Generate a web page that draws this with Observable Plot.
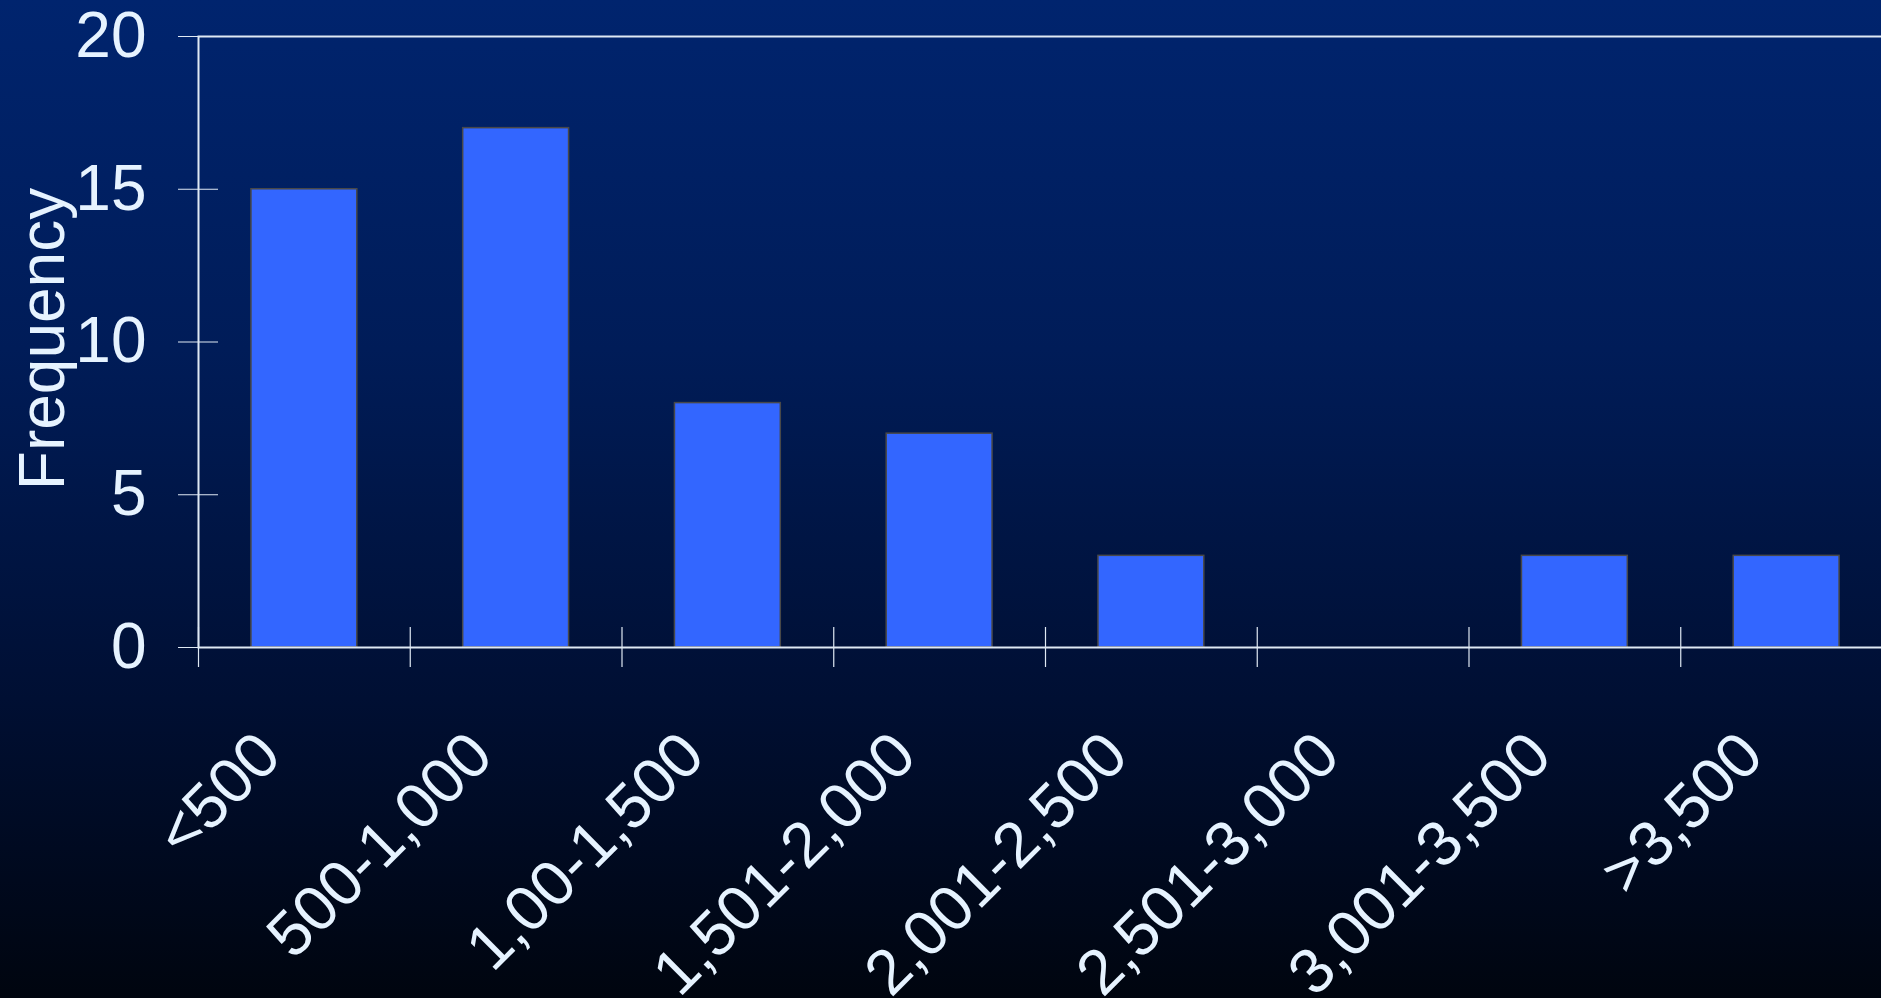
<!DOCTYPE html>
<html>
<head>
<meta charset="utf-8">
<script src="https://cdn.jsdelivr.net/npm/d3@7"></script>
<script src="https://cdn.jsdelivr.net/npm/@observablehq/plot@0.6"></script>
<style>
  html, body { margin: 0; padding: 0; overflow: hidden; }
  body {
    width: 1881px; height: 998px;
    background: linear-gradient(180deg, #00246e 0%, #001c58 35%, #000f33 70%, #00050f 100%);
  }
</style>
</head>
<body>
<div id="chart"></div>
<script>
// Data
const categories = ["<500", "500-1,000", "1,00-1,500", "1,501-2,000", "2,001-2,500", "2,501-3,000", "3,001-3,500", ">3,500"];
const frequencies = [15, 17, 8, 7, 3, 0, 3, 3];
const yTicks = [0, 5, 10, 15, 20];
const yLabel = "Frequency";

const data = categories.map((c, i) => ({category: c, frequency: frequencies[i]}));

const W = 1881, H = 998;
const mL = 198, mR = -11, mT = 36, mB = 351;
const step = (W - mL - mR) / categories.length;

const textColor = "#e6f3ff";
const lineColor = "#dfe9f4";
const font = "'Liberation Sans', Arial, Helvetica, sans-serif";

const chart = Plot.plot({
  width: W,
  height: H,
  marginLeft: mL,
  marginRight: mR,
  marginTop: mT,
  marginBottom: mB,
  style: {background: "transparent", color: textColor, fontFamily: font, overflow: "hidden", maxWidth: "none"},
  x: {type: "band", domain: categories, paddingInner: 0.5, paddingOuter: 0.25, round: false, axis: null},
  y: {domain: [0, 20], axis: null},
  marks: [
    Plot.barY(data, {x: "category", y: "frequency", fill: "#3366ff", stroke: "#484848", strokeWidth: 1.5}),
    Plot.frame({stroke: lineColor, strokeWidth: 2}),
    Plot.axisY({ticks: yTicks, tickSize: 40, dx: 20, tickPadding: 32, fontSize: 64, stroke: lineColor, strokeWidth: 1.2, fill: textColor, label: null}),
    Plot.ruleX(categories, {x: d => d, y1: 0, y2: 0, dx: -step / 2, insetTop: -20, insetBottom: -20, stroke: lineColor, strokeWidth: 1.2}),
    Plot.text(categories, {x: d => d, y: 0, rotate: -45, textAnchor: "end", lineAnchor: "middle", dx: -35, dy: 97, fontSize: 63.5, fill: textColor}),
    Plot.text([yLabel], {frameAnchor: "left", rotate: -90, textAnchor: "middle", lineAnchor: "bottom", dx: -135, dy: -3, fontSize: 64, fill: textColor})
  ]
});
document.getElementById("chart").appendChild(chart);
</script>
</body>
</html>
